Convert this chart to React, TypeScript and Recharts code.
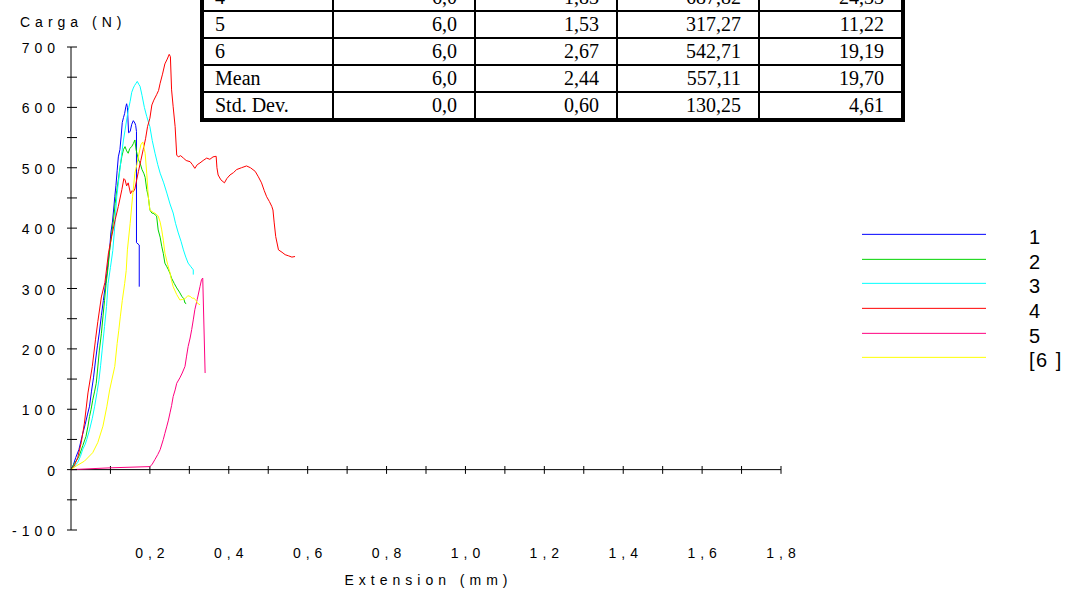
import React from 'react';
import { LineChart, Line, XAxis, YAxis, ReferenceLine, Legend, Label } from 'recharts';

type Pt = { x: number; y: number };
const toPoints = (rows: number[][]): Pt[] => rows.map(([x, y]) => ({ x, y }));

// Load (N) versus extension (mm) for each specimen
const specimen1 = toPoints([
  [0, 0], [0.006, 8], [0.012, 20], [0.02, 33], [0.028, 55], [0.036, 75], [0.042, 92], [0.047, 105],
  [0.052, 130], [0.057, 152], [0.062, 180], [0.067, 205], [0.072, 228], [0.077, 255], [0.082, 280],
  [0.087, 305], [0.091, 325], [0.094, 343], [0.098, 365], [0.101, 392], [0.105, 410], [0.108, 430],
  [0.111, 452], [0.114, 471], [0.117, 495], [0.12, 518], [0.124, 530], [0.127, 551], [0.13, 575],
  [0.133, 583], [0.136, 590], [0.139, 601], [0.141, 606], [0.143, 600], [0.146, 558], [0.15, 560],
  [0.154, 572], [0.158, 578], [0.162, 574], [0.164, 570], [0.166, 560], [0.166, 376], [0.173, 372],
  [0.173, 303],
]);

const specimen2 = toPoints([
  [0, 0], [0.008, 10], [0.015, 16], [0.021, 23], [0.03, 40], [0.038, 55], [0.043, 72], [0.047, 88],
  [0.051, 100], [0.055, 115], [0.06, 130], [0.064, 143], [0.068, 170], [0.072, 198], [0.077, 225],
  [0.081, 253], [0.085, 280], [0.089, 308], [0.094, 335], [0.098, 363], [0.103, 390], [0.108, 415],
  [0.112, 441], [0.116, 462], [0.12, 480], [0.124, 500], [0.129, 519], [0.133, 530], [0.137, 535],
  [0.141, 528], [0.145, 524], [0.149, 532], [0.154, 535], [0.158, 540], [0.162, 546], [0.165, 530],
  [0.171, 513], [0.175, 508], [0.18, 497], [0.185, 490], [0.188, 484], [0.192, 464], [0.196, 452],
  [0.2, 430], [0.205, 425], [0.21, 424], [0.217, 420], [0.221, 397], [0.226, 385], [0.23, 370],
  [0.234, 358], [0.238, 342], [0.243, 336], [0.247, 331], [0.251, 325], [0.255, 317], [0.262, 308],
  [0.268, 301], [0.275, 294], [0.281, 287], [0.286, 283], [0.289, 276], [0.292, 275],
]);

const specimen3 = toPoints([
  [0, 0], [0.008, 5], [0.017, 12], [0.024, 22], [0.03, 34], [0.036, 42], [0.04, 50], [0.047, 66],
  [0.054, 85], [0.06, 105], [0.066, 128], [0.071, 149], [0.075, 172], [0.079, 198], [0.082, 218],
  [0.085, 237], [0.09, 270], [0.094, 308], [0.1, 335], [0.106, 363], [0.11, 395], [0.116, 452],
  [0.12, 475], [0.124, 497], [0.128, 520], [0.133, 546], [0.137, 562], [0.141, 579], [0.145, 595],
  [0.15, 610], [0.154, 625], [0.158, 632], [0.161, 636], [0.165, 640], [0.168, 643], [0.172, 638],
  [0.175, 635], [0.18, 620], [0.186, 600], [0.192, 585], [0.2, 568], [0.206, 545], [0.213, 524],
  [0.22, 505], [0.226, 491], [0.235, 475], [0.243, 458], [0.251, 440], [0.259, 425], [0.265, 408],
  [0.272, 392], [0.279, 378], [0.285, 364], [0.291, 352], [0.297, 342], [0.304, 336], [0.31, 331],
  [0.31, 323],
]);

const specimen4 = toPoints([
  [0, 0], [0.008, 6], [0.017, 20], [0.026, 45], [0.034, 77], [0.043, 127], [0.054, 171], [0.062, 215],
  [0.068, 245], [0.077, 286], [0.086, 310], [0.095, 359], [0.103, 386], [0.112, 414], [0.12, 436],
  [0.129, 464], [0.134, 482], [0.137, 480], [0.141, 470], [0.145, 475], [0.151, 457], [0.155, 462],
  [0.158, 460], [0.162, 465], [0.165, 475], [0.171, 494], [0.177, 512], [0.183, 530], [0.189, 548],
  [0.194, 568], [0.2, 582], [0.205, 604], [0.21, 612], [0.217, 621], [0.222, 628], [0.226, 640],
  [0.232, 655], [0.238, 672], [0.244, 680], [0.249, 687.82], [0.252, 684], [0.255, 629], [0.259, 601],
  [0.264, 568], [0.268, 521], [0.272, 518], [0.278, 520], [0.285, 516], [0.292, 512], [0.302, 510],
  [0.308, 505], [0.314, 499], [0.32, 505], [0.327, 508], [0.335, 512], [0.344, 516], [0.352, 514],
  [0.36, 518], [0.368, 519], [0.37, 500], [0.373, 488], [0.38, 480], [0.389, 475], [0.395, 482],
  [0.403, 488], [0.412, 492], [0.42, 497], [0.432, 500], [0.445, 503], [0.455, 500], [0.467, 494],
  [0.475, 485], [0.483, 475], [0.49, 462], [0.496, 452], [0.503, 444], [0.509, 436], [0.512, 430],
  [0.515, 410], [0.519, 386], [0.526, 364], [0.535, 360], [0.543, 356], [0.552, 354], [0.56, 352],
  [0.568, 353],
]);

const specimen5 = toPoints([
  [0, 0], [0.1, 3], [0.2, 5], [0.205, 8], [0.213, 17], [0.22, 25], [0.226, 33], [0.234, 50],
  [0.238, 60], [0.243, 72], [0.247, 82], [0.251, 94], [0.255, 106], [0.259, 121], [0.264, 132],
  [0.268, 143], [0.276, 152], [0.282, 160], [0.289, 171], [0.293, 188], [0.297, 204], [0.302, 218],
  [0.306, 232], [0.31, 248], [0.314, 265], [0.32, 282], [0.327, 303], [0.331, 315], [0.334, 317.27],
  [0.34, 160],
]);

const specimen6 = toPoints([
  [0, 0], [0.013, 6], [0.034, 14], [0.055, 28], [0.068, 45], [0.081, 72], [0.091, 105], [0.098, 132],
  [0.104, 150], [0.111, 171], [0.117, 209], [0.121, 230], [0.125, 253], [0.13, 280], [0.136, 308],
  [0.14, 330], [0.143, 364], [0.15, 408], [0.156, 452], [0.162, 491], [0.167, 505], [0.171, 519],
  [0.177, 538], [0.182, 542.71], [0.188, 524], [0.192, 491], [0.196, 452], [0.2, 430], [0.209, 426],
  [0.215, 424], [0.221, 420], [0.226, 410], [0.23, 397], [0.234, 380], [0.238, 359], [0.245, 340],
  [0.251, 326], [0.255, 313], [0.259, 303], [0.268, 290], [0.276, 281], [0.283, 282], [0.289, 283],
  [0.296, 288], [0.302, 287], [0.307, 284], [0.312, 284], [0.317, 280], [0.32, 276], [0.327, 273],
]);

const seriesData = [specimen1, specimen2, specimen3, specimen4, specimen5, specimen6];
const seriesNames = ['1', '2', '3', '4', '5', '[6 ]'];
const seriesColors = ['#0000ff', '#00d400', '#00ffff', '#ff0000', '#ff0080', '#ffff00'];

// Axis ticks
const xMarkTicks = [0.1, 0.2, 0.3, 0.4, 0.5, 0.6, 0.7, 0.8, 0.9, 1.0, 1.1, 1.2, 1.3, 1.4, 1.5, 1.6, 1.7, 1.8];
const xLabelTicks = [0.2, 0.4, 0.6, 0.8, 1.0, 1.2, 1.4, 1.6, 1.8];
const xTickLabels = ['0,2', '0,4', '0,6', '0,8', '1,0', '1,2', '1,4', '1,6', '1,8'];
const yMarkTicks = [-100, -50, 0, 50, 100, 150, 200, 250, 300, 350, 400, 450, 500, 550, 600, 650, 700];
const yLabelTicks = [-100, 0, 100, 200, 300, 400, 500, 600, 700];
const yTickLabels = ['-100', '0', '100', '200', '300', '400', '500', '600', '700'];

// Results table
const rowLabels = ['4', '5', '6', 'Mean', 'Std. Dev.'];
const colWidthMm = ['6,0', '6,0', '6,0', '6,0', '0,0'];
const colThickness = ['1,83', '1,53', '2,67', '2,44', '0,60'];
const colMaxLoad = ['687,82', '317,27', '542,71', '557,11', '130,25'];
const colStress = ['24,33', '11,22', '19,19', '19,70', '4,61'];

const SANS = '"Liberation Sans", Arial, Helvetica, sans-serif';
const axisText: React.CSSProperties = { fontFamily: SANS, fontSize: 14, letterSpacing: 5, fill: '#000' };

const renderYTick = (props: any) => {
  const { x, y, payload } = props;
  const i = yLabelTicks.indexOf(payload.value);
  return (
    <g>
      <line x1={x - 4} x2={x + 6} y1={y} y2={y} stroke="#000" strokeWidth={1} />
      {i >= 0 && (
        <text x={x - 11} y={y + 1} textAnchor="end" dominantBaseline="central" style={axisText}>
          {yTickLabels[i]}
        </text>
      )}
    </g>
  );
};

const renderXTick = (props: any) => {
  const { x, y, payload } = props;
  const i = xLabelTicks.indexOf(payload.value);
  if (i < 0) return <g />;
  return (
    <text x={x + 2.5} y={y + 23} textAnchor="middle" dominantBaseline="central" style={axisText}>
      {xTickLabels[i]}
    </text>
  );
};

const renderLegend = (props: any) => {
  const items = props.payload || [];
  return (
    <div>
      {items.map((e: any) => (
        <div key={e.value} style={{ position: 'relative', height: 24.7 }}>
          <svg width={124} height={25} style={{ position: 'absolute', left: 0, top: 0 }}>
            <line x1={0} x2={124} y1={12.35} y2={12.35} stroke={e.color} strokeWidth={1} />
          </svg>
          <span
            style={{
              position: 'absolute',
              left: 167,
              top: 3,
              fontFamily: SANS,
              fontSize: 20,
              letterSpacing: 1.5,
              lineHeight: '24.7px',
              color: '#000',
              whiteSpace: 'pre',
            }}
          >
            {e.value}
          </span>
        </div>
      ))}
    </div>
  );
};

const colWidths = [128, 142, 142, 142, 143];

const ResultsTable = () => {
  const rows = rowLabels.map((label, i) => [label, colWidthMm[i], colThickness[i], colMaxLoad[i], colStress[i]]);
  return (
    <div
      style={{
        position: 'absolute',
        left: 200,
        top: -19.5,
        width: 705,
        border: '4px solid #000',
        boxSizing: 'border-box',
        background: '#fff',
        fontFamily: '"Liberation Serif", "Times New Roman", serif',
        fontSize: 20,
        color: '#000',
      }}
    >
      {rows.map((cells, r) => (
        <div
          key={r}
          style={{
            display: 'flex',
            height: r === 0 ? 25 : 27,
            boxSizing: 'border-box',
            borderTop: r === 0 ? 'none' : '2px solid #000',
          }}
        >
          {cells.map((c, k) => (
            <div
              key={k}
              style={{
                width: colWidths[k],
                boxSizing: 'border-box',
                borderLeft: k === 0 ? 'none' : '2px solid #000',
                textAlign: k === 0 ? 'left' : 'right',
                paddingLeft: k === 0 ? 11 : 0,
                paddingRight: k === 0 ? 0 : 17,
                lineHeight: '25px',
                whiteSpace: 'nowrap',
              }}
            >
              {c}
            </div>
          ))}
        </div>
      ))}
    </div>
  );
};

export default function App() {
  return (
    <div style={{ position: 'absolute', left: 0, top: 0, width: 1066, height: 590, overflow: 'hidden', background: '#fff' }}>
      <LineChart width={1066} height={590} margin={{ top: 47, right: 285, bottom: 0, left: 0 }}>
        <XAxis
          type="number"
          dataKey="x"
          domain={[0, 1.8]}
          allowDataOverflow
          ticks={xLabelTicks}
          interval={0}
          height={60}
          axisLine={false}
          tickLine={false}
          tickSize={0}
          tickMargin={0}
          tick={renderXTick}
        >
          <Label
            content={(p: any) => (
              <text
                x={p.viewBox.x + p.viewBox.width / 2 + 2.5}
                y={p.viewBox.y + 50}
                textAnchor="middle"
                dominantBaseline="central"
                style={axisText}
              >
                Extension (mm)
              </text>
            )}
          />
        </XAxis>
        <YAxis
          type="number"
          domain={[-100, 700]}
          allowDataOverflow
          ticks={yMarkTicks}
          interval={0}
          width={71}
          axisLine={{ stroke: '#000', strokeWidth: 1 }}
          tickLine={false}
          tickSize={0}
          tickMargin={0}
          tick={renderYTick}
        >
          <Label
            content={(p: any) => (
              <text x={p.viewBox.x + 20} y={p.viewBox.y - 25} dominantBaseline="central" style={axisText}>
                Carga (N)
              </text>
            )}
          />
        </YAxis>
        <ReferenceLine y={0} stroke="#000" strokeWidth={1} ifOverflow="visible" />
        {xMarkTicks.map((v) => (
          <ReferenceLine
            key={'xm' + v}
            segment={[{ x: v, y: -7 }, { x: v, y: 6 }]}
            stroke="#000"
            strokeWidth={1}
            ifOverflow="visible"
          />
        ))}
        {seriesData.map((d, i) => (
          <Line
            key={seriesNames[i]}
            data={d}
            dataKey="y"
            name={seriesNames[i]}
            type="linear"
            stroke={seriesColors[i]}
            strokeWidth={1}
            dot={false}
            activeDot={false}
            isAnimationActive={false}
          />
        ))}
        <Legend
          layout="vertical"
          align="center"
          verticalAlign="middle"
          wrapperStyle={{ left: 862, top: 222, width: 204 }}
          content={renderLegend}
        />
      </LineChart>
      <ResultsTable />
    </div>
  );
}
